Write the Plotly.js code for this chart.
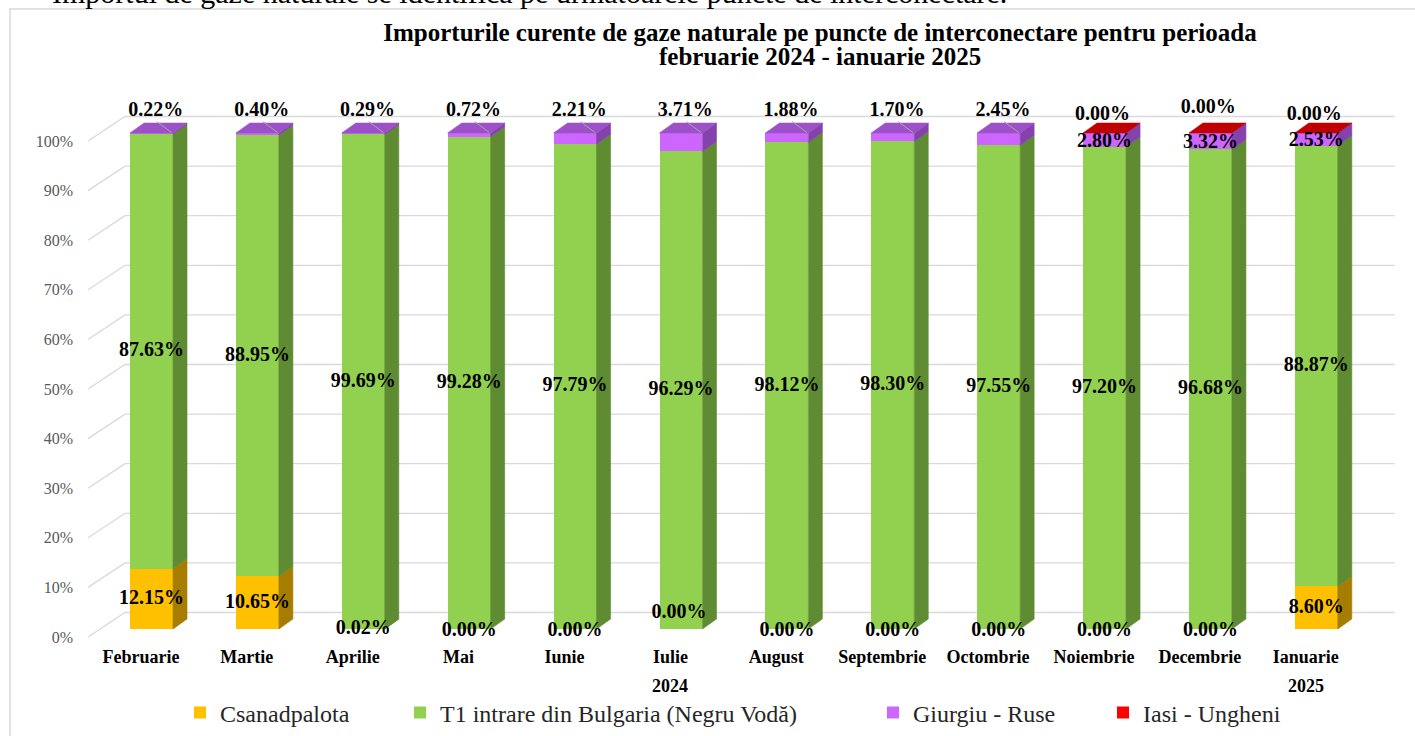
<!DOCTYPE html>
<html><head><meta charset="utf-8">
<script src="https://cdn.plot.ly/plotly-3.0.1.min.js"></script>
<style>html,body{margin:0;padding:0;background:#fff;} #chart{width:1415px;height:736px;}</style>
</head><body><div id="chart"></div>
<script>
// ---------- data ----------
const months = ['Februarie','Martie','Aprilie','Mai','Iunie','Iulie','August','Septembrie','Octombrie','Noiembrie','Decembrie','Ianuarie'];
const yearLabels = ['2024','2025'];
const yearLabelMonth = ['Iulie','Ianuarie'];
const csanadpalota = [12.15,10.65,0.02,0.00,0.00,0.00,0.00,0.00,0.00,0.00,0.00,8.60];
const t1Bulgaria   = [87.63,88.95,99.69,99.28,97.79,96.29,98.12,98.30,97.55,97.20,96.68,88.87];
const giurgiuRuse  = [0.22,0.40,0.29,0.72,2.21,3.71,1.88,1.70,2.45,2.80,3.32,2.53];
const iasiUngheni  = [null,null,null,null,null,null,null,null,null,0.00,0.00,0.00];
const yTicks = [0,10,20,30,40,50,60,70,80,90,100];
const titleLines = ['Importurile curente de gaze naturale pe puncte de interconectare pentru perioada', 'februarie 2024 - ianuarie 2025'];

// ---------- styles ----------
const SERIF = '"Liberation Serif", "Times New Roman", Times, serif';
const series = [
  {name:'Csanadpalota', values:csanadpalota, front:'#FFC000', side:'#A67D00', top:'#D9A300', legend:'legend'},
  {name:'T1 intrare din Bulgaria (Negru Vodă)', values:t1Bulgaria, front:'#92D050', side:'#5F8B33', top:'#7CB342', legend:'legend2'},
  {name:'Giurgiu - Ruse', values:giurgiuRuse, front:'#CC66FF', side:'#8542AD', top:'#9C52C6', legend:'legend3'},
  {name:'Iasi - Ungheni', values:iasiUngheni, front:'#FF0000', side:'#B00000', top:'#C00000', legend:'legend4'}
];
const FL = -0.103, FW = 0.406, DX = 0.132, DY = 2.0;
const xs = months.map((m,i)=>i);
const traces = [];
const lblFont = {family:SERIF, size:20, color:'#000', weight:'bold'};
const fmt = v => v.toFixed(2) + '%';

// back-wall gridlines with slanted left part (base axes)
yTicks.forEach(v => traces.push({type:'scatter', mode:'lines', x:[-0.5,-0.15,11.84], y:[v, v+4.94, v+4.94],
  xaxis:'x', yaxis:'y', line:{color:'#D9D9D9', width:1.3}, hoverinfo:'skip', showlegend:false}));

// front faces (bars) on overlay axis
series.forEach(s => traces.push({type:'bar', name:s.name, x:xs, y:s.values, xaxis:'x', yaxis:'y2',
  width:FW, offset:FL, marker:{color:s.front, line:{width:0}}, legend:s.legend, hoverinfo:'skip', textposition:'none'}));

// side faces
const cum = xs.map(()=>0);
const bases = series.map(()=>xs.map(()=>0));
series.forEach((s,k) => {
  s.values.forEach((v,i) => {
    if (v === null) return;
    const y0 = cum[i], y1 = cum[i] + v;
    bases[k][i] = y0;
    cum[i] = y1;
    if (v <= 0) return;
    const xr = i + FL + FW;
    traces.push({type:'scatter', mode:'lines', fill:'toself', x:[xr, xr+DX, xr+DX, xr, xr], y:[y0, y0+DY, y1+DY, y1, y0],
      xaxis:'x', yaxis:'y2', line:{width:0.6, color:s.side}, fillcolor:s.side, hoverinfo:'skip', showlegend:false});
  });
});
// top faces
xs.forEach(i => {
  let topS = null;
  series.forEach(s => { if (s.values[i] !== null) topS = s; });
  const t = cum[i], xl = i + FL, xr = i + FL + FW;
  traces.push({type:'scatter', mode:'lines', fill:'toself', x:[xl, xr, xr+DX, xl+DX, xl], y:[t, t, t+DY, t+DY, t],
    xaxis:'x', yaxis:'y2', line:{width:0.6, color:topS.top}, fillcolor:topS.top, hoverinfo:'skip', showlegend:false});
});

// labels
const lx = [], ly = [], lt = [];
const lead = {x:[], y:[]};
xs.forEach(i => {
  const c = csanadpalota[i], g = giurgiuRuse[i], t = t1Bulgaria[i], ia = iasiUngheni[i];
  // Csanadpalota
  if (c > 0) { lx.push(i+0.1); ly.push(c/2); }
  else if (months[i] === 'Iulie') { lx.push(i+0.08); ly.push(3.2); }
  else { lx.push(i+0.1); ly.push(-0.4); }
  lt.push(fmt(c));
  // T1
  lx.push(i+0.1); ly.push(bases[1][i] + t/2); lt.push(fmt(t));
  // Giurgiu
  if (ia !== null) {
    lx.push(i+0.1); ly.push(bases[2][i] + g/2 - 0.4); lt.push(fmt(g));
    lx.push(i+0.08); ly.push(cum[i] + (months[i]==='Decembrie' ? 5.0 : 3.7)); lt.push(fmt(ia));
  } else {
    lx.push(i+0.14); ly.push(cum[i] + 4.4); lt.push(fmt(g));
    lead.x.push(i+0.15, i+0.29, null); lead.y.push(cum[i]+2.3, cum[i]+0.1, null);
  }
});
traces.push({type:'scatter', mode:'lines', x:lead.x, y:lead.y, xaxis:'x', yaxis:'y2', line:{color:'#A6A6A6', width:1}, hoverinfo:'skip', showlegend:false});
traces.push({type:'scatter', mode:'text', x:lx, y:ly, text:lt, textposition:'middle center', textfont:lblFont,
  xaxis:'x', yaxis:'y2', hoverinfo:'skip', showlegend:false, cliponaxis:false});

const legendBase = {orientation:'h', xref:'container', yref:'container', xanchor:'left', yanchor:'middle', y:1-713/736,
  font:{family:SERIF, size:24, color:'#262626'}, bgcolor:'rgba(0,0,0,0)', itemwidth:30};
const legendTextLeft = [220, 440, 913, 1143];

const layout = {
  width:1415, height:736, margin:{l:88, r:15, t:100, b:96, pad:0},
  font:{family:SERIF, color:'#000'},
  paper_bgcolor:'#fff', plot_bgcolor:'rgba(0,0,0,0)', hovermode:false,
  barmode:'stack', showlegend:true,
  title:{text:titleLines[0],
    font:{family:SERIF, size:25, color:'#000', weight:'bold'}, x:820/1415, xref:'container', xanchor:'center', y:1-32/736, yref:'container', yanchor:'middle'},
  xaxis:{range:[-0.5,11.89], tickvals:xs, ticktext:months, showgrid:false, zeroline:false, showline:false, ticks:'',
    tickfont:{family:SERIF, size:18, color:'#000', weight:'bold'}, ticklabelstandoff:4, fixedrange:true},
  yaxis:{range:[-0.605,108.27], tickvals:yTicks, ticktext:yTicks.map(v=>v+'%'), showgrid:false, zeroline:false, showline:false, ticks:'',
    tickfont:{family:SERIF, size:16, color:'#595959'}, ticklabelstandoff:14, fixedrange:true},
  yaxis2:{overlaying:'y', range:[-2.218,106.65], visible:false, fixedrange:true},
  legend: Object.assign({}, legendBase, {x:(legendTextLeft[0]-40)/1415}),
  legend2: Object.assign({}, legendBase, {x:(legendTextLeft[1]-40)/1415}),
  legend3: Object.assign({}, legendBase, {x:(legendTextLeft[2]-40)/1415}),
  legend4: Object.assign({}, legendBase, {x:(legendTextLeft[3]-40)/1415}),
  annotations: yearLabels.map((y,k)=>({text:y, xref:'x', x:months.indexOf(yearLabelMonth[k]), yref:'paper', y:(640-686)/540,
      showarrow:false, xanchor:'center', yanchor:'middle', font:{family:SERIF, size:18, color:'#000', weight:'bold'}}))
    .concat([
      {text:titleLines[1], xref:'paper', x:(820-88)/1312, yref:'paper', y:(640-57)/540, xanchor:'center', yanchor:'middle',
       showarrow:false, font:{family:SERIF, size:25, color:'#000', weight:'bold'}},
      {text:'Importul de gaze naturale se identifică pe următoarele puncte de interconectare.', xref:'paper', x:(50-88)/1312,
      yref:'paper', y:(640+7)/540, xanchor:'left', yanchor:'middle', showarrow:false, font:{family:SERIF, size:30, color:'#000'}}]),
  shapes:[{type:'rect', xref:'paper', yref:'paper', x0:(10-88)/1312, x1:1.03, y0:-0.25, y1:(640-9)/540,
    line:{color:'#D9D9D9', width:1.5}, fillcolor:'rgba(0,0,0,0)', layer:'below'}]
};
Plotly.newPlot('chart', traces, layout, {displayModeBar:false, staticPlot:true});
</script></body></html>
